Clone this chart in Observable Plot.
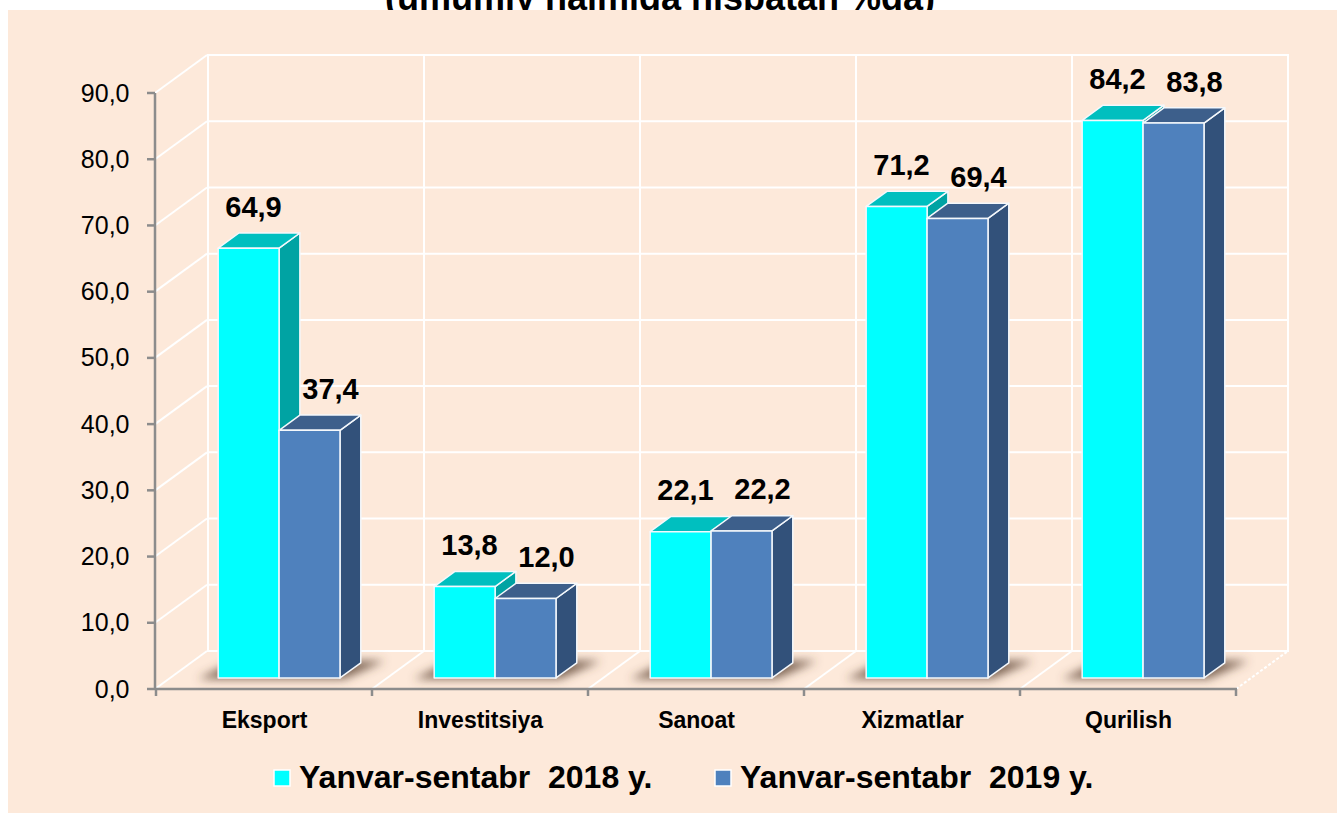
<!DOCTYPE html>
<html>
<head>
<meta charset="utf-8">
<script src="https://cdn.jsdelivr.net/npm/d3@7"></script>
<script src="https://cdn.jsdelivr.net/npm/@observablehq/plot@0.6"></script>
<style>
  html, body { margin: 0; padding: 0; background: #ffffff; }
  #chart svg { display: block; font-family: Arial, "Liberation Sans", sans-serif; }
</style>
</head>
<body>
<div id="chart"></div>
<script>
// ---- data ----
const title = "(umumiy hajmiga nisbatan %da)";
const categories = ["Eksport", "Investitsiya", "Sanoat", "Xizmatlar", "Qurilish"];
const seriesNames = ["Yanvar-sentabr  2018 y.", "Yanvar-sentabr  2019 y."];
const values2018 = [64.9, 13.8, 22.1, 71.2, 84.2];
const values2019 = [37.4, 12.0, 22.2, 69.4, 83.8];
const yTicks = [0, 10, 20, 30, 40, 50, 60, 70, 80, 90];

// ---- styles ----
const BG = "#FDE9DA";
const series = [
  {name: seriesNames[0], values: values2018, front: "#00FFFF", top: "#00BFBF", side: "#00A3A3", labelDx: -11},
  {name: seriesNames[1], values: values2019, front: "#4F81BD", top: "#3D5F8B", side: "#32517A", labelDx: 66}
];
const DEPTH_X = 52, DEPTH_Y = -38;          // 3-D depth of the chart box (px)
const BAR_F = 0.29, BAR_B = 0.69;           // bar front/back position inside the depth
const BAR_W = 0.282;                        // bar width as a share of band

const fmt = v => v.toFixed(1).replace(".", ",");

function scene(index, scales, values, dims) {
  const X = scales.x, Y = scales.y;
  const L = dims.marginLeft, R = dims.width - dims.marginRight;
  const bw = X.bandwidth();
  const g = d3.create("svg:g").attr("text-anchor", "start");
  const defs = g.append("defs");
  defs.append("filter").attr("id", "shblur").attr("x", "-50%").attr("y", "-200%").attr("width", "200%").attr("height", "500%")
    .append("feGaussianBlur").attr("stdDeviation", 5);

  // title (partly hidden behind the panel, as in the reference)
  g.append("text").attr("x", 660).attr("y", 10).attr("text-anchor", "middle")
    .attr("font-size", 36).attr("font-weight", "bold").attr("fill", "#000").text(title);
  // panel
  g.append("rect").attr("x", 8).attr("y", 10).attr("width", dims.width - 12).attr("height", dims.height - 11).attr("fill", BG);

  const y0 = Y(0), yTop = Y(yTicks[yTicks.length - 1]);
  const wall = g.append("g").attr("stroke", "#ffffff").attr("stroke-width", 2).attr("fill", "none");
  for (const t of yTicks) {
    wall.append("line").attr("x1", L).attr("y1", Y(t)).attr("x2", L + DEPTH_X).attr("y2", Y(t) + DEPTH_Y);
    wall.append("line").attr("x1", L + DEPTH_X).attr("y1", Y(t) + DEPTH_Y).attr("x2", R + DEPTH_X).attr("y2", Y(t) + DEPTH_Y);
  }
  const bounds = categories.map(c => X(c)).concat([X(categories[categories.length - 1]) + bw]);
  bounds.forEach((bx, i) => {
    wall.append("line").attr("x1", bx + DEPTH_X).attr("y1", yTop + DEPTH_Y).attr("x2", bx + DEPTH_X).attr("y2", y0 + DEPTH_Y);
    if (i > 0) {
      const ln = wall.append("line").attr("x1", bx).attr("y1", y0).attr("x2", bx + DEPTH_X).attr("y2", y0 + DEPTH_Y);
      if (i === bounds.length - 1) ln.attr("stroke-dasharray", "3,2");
    }
  });

  // axes
  const ax = g.append("g").attr("stroke", "#8C8C8C").attr("stroke-width", 2.5).attr("fill", "none");
  ax.append("line").attr("x1", L).attr("y1", yTop).attr("x2", L).attr("y2", y0 + 1);
  for (const t of yTicks) ax.append("line").attr("x1", L - 8).attr("y1", Y(t)).attr("x2", L).attr("y2", Y(t));
  ax.append("line").attr("x1", L).attr("y1", y0).attr("x2", R).attr("y2", y0);
  bounds.forEach(bx => ax.append("line").attr("x1", bx).attr("y1", y0).attr("x2", bx).attr("y2", y0 + 7));

  // bars
  const fdx = DEPTH_X * BAR_F, fdy = DEPTH_Y * BAR_F;
  const ddx = DEPTH_X * (BAR_B - BAR_F), ddy = DEPTH_Y * (BAR_B - BAR_F);
  const w = bw * BAR_W;
  const pts = a => a.map(p => p.join(",")).join(" ");
  categories.forEach((c, i) => {
    const cx = X(c) + bw / 2 + fdx;
    const yb = y0 + fdy;
    const xl = cx - w, xr = cx + w;
    g.append("polygon").attr("filter", "url(#shblur)").attr("fill", "#5E4632").attr("fill-opacity", 0.8)
      .attr("points", pts([[xl - 20, yb + 1], [xr + 4, yb + 1], [xr + ddx + 24, yb + ddy - 2], [xl + ddx - 4, yb + ddy - 2]]));
    series.forEach((s, si) => {
      const x1 = cx + (si - 1) * w, x2 = x1 + w;
      const yt = Y(s.values[i]) + fdy;
      const bg = g.append("g").attr("stroke", "#F4F8FC").attr("stroke-width", 1.5).attr("stroke-linejoin", "round");
      bg.append("polygon").attr("fill", s.side).attr("points", pts([[x2, yt], [x2 + ddx, yt + ddy], [x2 + ddx, yb + ddy], [x2, yb]]));
      bg.append("polygon").attr("fill", s.top).attr("points", pts([[x1, yt], [x2, yt], [x2 + ddx, yt + ddy], [x1 + ddx, yt + ddy]]));
      bg.append("polygon").attr("fill", s.front).attr("points", pts([[x1, yt], [x2, yt], [x2, yb], [x1, yb]]));
    });
  });

  // legend
  const lg = g.append("g").attr("font-size", 32).attr("font-weight", "bold").attr("fill", "#000").attr("text-anchor", "start");
  const lx = [274, 715];
  series.forEach((s, si) => {
    lg.append("rect").attr("x", lx[si]).attr("y", 770).attr("width", 16).attr("height", 16)
      .attr("fill", s.front).attr("stroke", "#ffffff").attr("stroke-width", 1.5);
    lg.append("text").attr("x", lx[si] + 25).attr("y", 788).style("white-space", "pre").text(s.name);
  });
  return g.node();
}

const valueLabels = series.map(s =>
  Plot.text(categories, {
    x: d => d,
    y: (d, i) => s.values[i],
    text: (d, i) => fmt(s.values[i]),
    dx: s.labelDx,
    dy: -43,
    lineAnchor: "bottom",
    fontSize: 29,
    fontWeight: "bold",
    fill: "#000"
  })
);

const chart = Plot.plot({
  width: 1341,
  height: 814,
  marginLeft: 155,
  marginRight: 104,
  marginTop: 93,
  marginBottom: 125,
  style: {background: "transparent", overflow: "visible", fontFamily: "Arial, 'Liberation Sans', sans-serif"},
  x: {type: "band", domain: categories, padding: 0, axis: null},
  y: {domain: [0, 90], axis: null},
  marks: [
    scene,
    Plot.text(yTicks, {y: d => d, text: fmt, frameAnchor: "left", dx: -26, textAnchor: "end", fontSize: 25, fill: "#000"}),
    Plot.text(categories, {x: d => d, text: d => d, frameAnchor: "bottom", dy: 38, lineAnchor: "bottom", fontSize: 23, fontWeight: "bold", fill: "#000"}),
    ...valueLabels
  ]
});
document.getElementById("chart").appendChild(chart);
</script>
</body>
</html>
